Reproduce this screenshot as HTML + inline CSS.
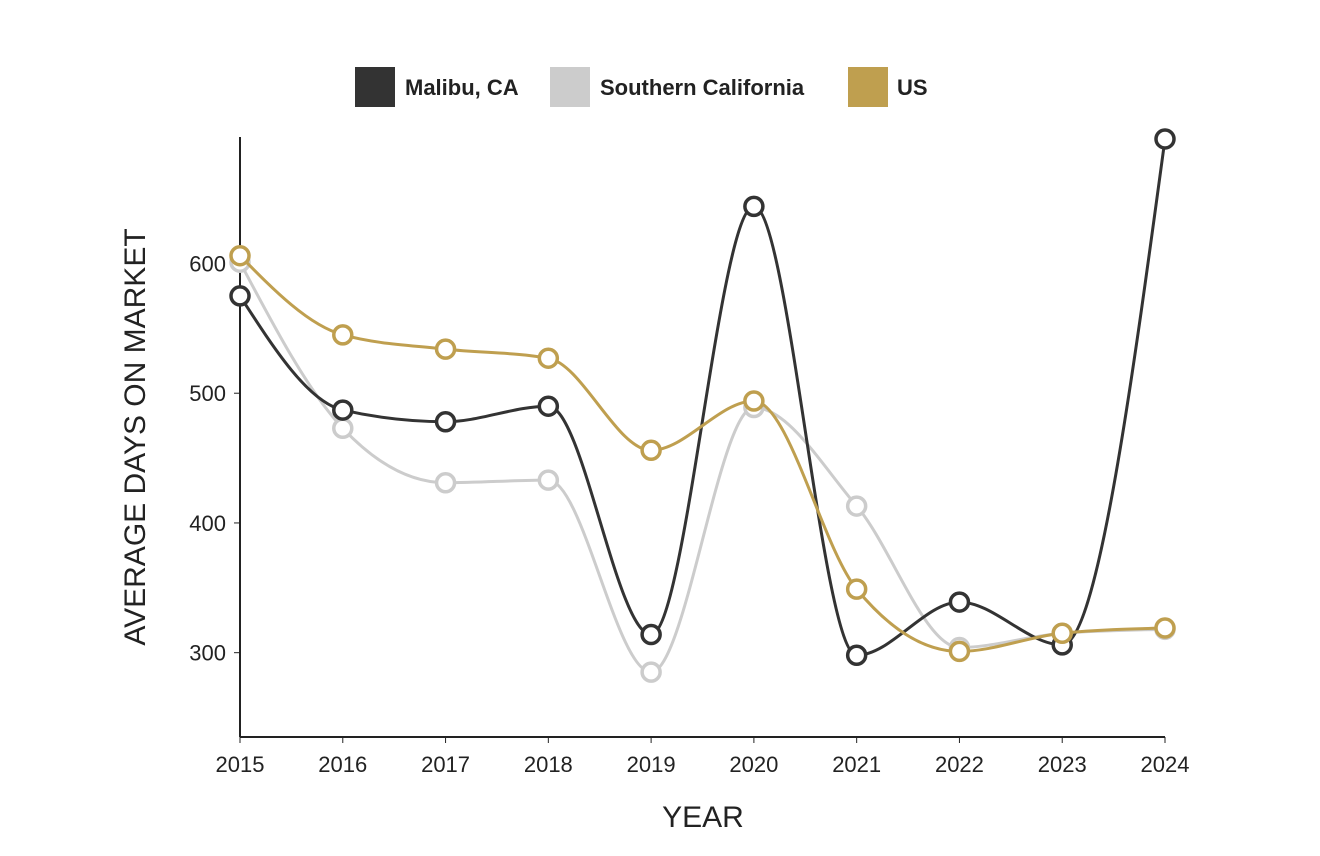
<!DOCTYPE html>
<html><head><meta charset="utf-8"><style>
html,body{margin:0;padding:0;background:#fff;}
svg{display:block;font-family:"Liberation Sans",sans-serif;}
</style></head><body>
<svg id="chart" width="1320" height="856">
<g>
 <rect x="355" y="67" width="40" height="40" fill="#333333"/>
 <text x="405" y="95" font-size="22" font-weight="bold" fill="#222">Malibu, CA</text>
 <rect x="550" y="67" width="40" height="40" fill="#cccccc"/>
 <text x="600" y="95" font-size="22" font-weight="bold" fill="#222">Southern California</text>
 <rect x="848" y="67" width="40" height="40" fill="#bf9f4f"/>
 <text x="897" y="95" font-size="22" font-weight="bold" fill="#222">US</text>
</g>
<g id="axes"></g>
<g id="series"></g>
<text x="703" y="827" font-size="30" text-anchor="middle" fill="#222">YEAR</text>
<text transform="translate(145,437) rotate(-90)" font-size="30" text-anchor="middle" fill="#222">AVERAGE DAYS ON MARKET</text>
</svg>
<script>
const years = [2015,2016,2017,2018,2019,2020,2021,2022,2023,2024];
const malibu = [575,487,478,490,314,644,298,339,306,696];
const socal = [601,473,431,433,285,489,413,304,315,318];
const us = [606,545,534,527,456,494,349,301,315,319];
const yTicks = [300,400,500,600];
const NS="http://www.w3.org/2000/svg";
const x0=240,x1=1165,yTop=137,yBot=737,vMin=235,vMax=697.5;
function xs(i){return x0+(x1-x0)*i/(years.length-1);}
function ys(v){return yBot-(v-vMin)/(vMax-vMin)*(yBot-yTop);}
function mk(tag,attrs,parent){const e=document.createElementNS(NS,tag);for(const k in attrs)e.setAttribute(k,attrs[k]);parent.appendChild(e);return e;}
const axes=document.getElementById('axes');
let l=mk('line',{x1:x0,y1:yTop,x2:x0,y2:yBot,stroke:'#222','stroke-width':2},axes);


l=mk('line',{x1:x0,y1:yBot,x2:x1,y2:yBot,stroke:'#222','stroke-width':2},axes);


yTicks.forEach(v=>{
 const t=mk('line',{x1:x0-6,y1:ys(v),x2:x0,y2:ys(v),stroke:'#222','stroke-width':1},axes);
 
 
 const tx=mk('text',{x:x0-14,y:ys(v)+8,'font-size':22,'text-anchor':'end',fill:'#222'},axes);
 tx.textContent=v;
 
 
});
years.forEach((yr,i)=>{
 const t=mk('line',{x1:xs(i),y1:yBot,x2:xs(i),y2:yBot+6,stroke:'#222','stroke-width':1},axes);
 
 
 const tx=mk('text',{x:xs(i),y:772,'font-size':22,'text-anchor':'middle',fill:'#222'},axes);
 tx.textContent=yr;
 
 
});
function monotonePath(px,py){
 const n=px.length,d=[],m=[];
 for(let i=0;i<n-1;i++)d.push((py[i+1]-py[i])/(px[i+1]-px[i]));
 for(let i=0;i<n;i++){
  if(i===0)m.push(d[0]);else if(i===n-1)m.push(d[n-2]);
  else{ if(d[i-1]*d[i]<=0)m.push(0); else{const h0=px[i]-px[i-1],h1=px[i+1]-px[i];
   const p=(d[i-1]*h1+d[i]*h0)/(h0+h1);
   m.push((Math.sign(d[i-1])+Math.sign(d[i]))*Math.min(Math.abs(d[i-1]),Math.abs(d[i]),0.5*Math.abs(p)));}}
 }
 m[0]=(3*d[0]-m[1])/2;
 m[n-1]=(3*d[n-2]-m[n-2])/2;
 let s='M'+px[0]+','+py[0];
 for(let i=0;i<n-1;i++){const dx=(px[i+1]-px[i])/3;
  s+=' C'+(px[i]+dx)+','+(py[i]+m[i]*dx)+' '+(px[i+1]-dx)+','+(py[i+1]-m[i+1]*dx)+' '+px[i+1]+','+py[i+1];}
 return s;
}
const sg=document.getElementById('series');
[[socal,'#cccccc','socal'],[malibu,'#333333','malibu'],[us,'#bf9f4f','us']].forEach(([vals,c,name])=>{
 const g=mk('g',{},sg);
 
 
 const px=vals.map((v,i)=>xs(i)),py=vals.map(ys);
 const p=mk('path',{d:monotonePath(px,py),fill:'none',stroke:c,'stroke-width':3},g);
 
 
 vals.forEach((v,i)=>{
  const ci=mk('circle',{cx:px[i],cy:py[i],r:9,fill:'#fff',stroke:c,'stroke-width':3.5},g);
  
  
 });
});
</script>
</body></html>
